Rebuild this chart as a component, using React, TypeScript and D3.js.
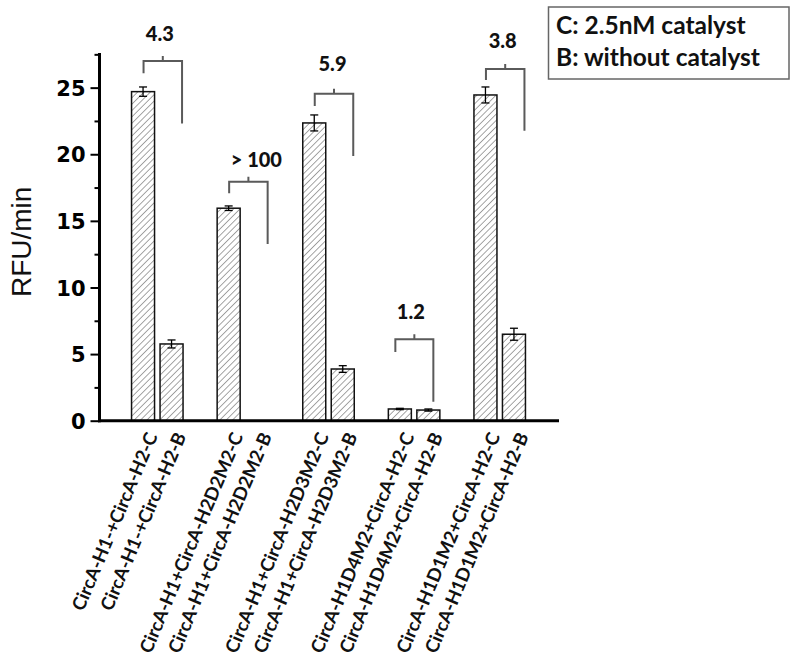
import React, { useEffect, useRef } from "react";
import * as d3 from "d3";

// ---- data ----
const groups = [
  "CircA-H1-+CircA-H2",
  "CircA-H1+CircA-H2D2M2",
  "CircA-H1+CircA-H2D3M2",
  "CircA-H1D4M2+CircA-H2",
  "CircA-H1D1M2+CircA-H2",
];
const conditions = ["C", "B"];
const valuesC = [24.7, 15.95, 22.35, 0.88, 24.45];
const errorsC = [0.35, 0.17, 0.6, 0.05, 0.6];
const valuesB = [5.76, 0, 3.88, 0.8, 6.49];
const errorsB = [0.3, 0, 0.25, 0.08, 0.45];
const ratioLabels = ["4.3", "> 100", "5.9", "1.2", "3.8"];
const bracketTop = [27.0, 17.94, 24.55, 6.11, 26.4];
const bracketLeftBottom = [26.08, 17.07, 23.63, 5.15, 25.58];
const bracketRightBottom = [22.3, 13.27, 19.87, 1.43, 21.77];
const labelLevel = [28.53, 19.07, 26.25, 7.61, 27.96];
const yTicks = [0, 5, 10, 15, 20, 25];
const legendLines = ["C: 2.5nM catalyst", "B: without catalyst"];

// layout constants
const bracketShift = [0, 0, 0, -5, 0];
const labelDx = [-3, 8, -1.5, -3.5, -2.5];

const W = 800;
const H = 662;
const axisX = 99.5;
const axisY = 420.7;
const axisTop = 53;
const axisRight = 559;

export default function App() {
  const yAxisRef = useRef<SVGGElement>(null);

  const y = d3.scaleLinear().domain([0, 27.6]).range([axisY, axisTop]);
  const x0 = d3.scaleBand<string>().domain(groups).range([114.5, 542.5]).padding(0);
  const x1 = d3
    .scaleBand<string>()
    .domain(conditions)
    .range([x0.bandwidth() / 2 - 25.75, x0.bandwidth() / 2 + 25.75])
    .paddingInner(0.193)
    .paddingOuter(0);

  useEffect(() => {
    if (!yAxisRef.current) return;
    const g = d3.select(yAxisRef.current);
    g.selectAll("*").remove();
    const major = d3
      .axisLeft(y)
      .tickValues(yTicks)
      .tickSize(9)
      .tickPadding(5)
      .tickFormat((d) => String(d));
    const ga = g.append("g").call(major);
    ga.attr("font-size", null).attr("font-family", null);
    ga.select(".domain").remove();
    ga.selectAll(".tick line").attr("stroke", "#000").attr("stroke-width", 2);
    ga.selectAll(".tick text")
      .style("font-family", "'DejaVu Sans', sans-serif")
      .style("font-weight", "bold")
      .style("font-size", "21px")
      .attr("fill", "#000")
      .attr("dy", "0.36em");
    const minorVals = yTicks.map((t) => t + 2.5).filter((v) => v < 27.6);
    const minor = d3.axisLeft(y).tickValues(minorVals).tickSize(5).tickFormat(() => "");
    const gm = g.append("g").call(minor);
    gm.select(".domain").remove();
    gm.selectAll(".tick line").attr("stroke", "#000").attr("stroke-width", 2);
  }, []);

  const labelFont = "Lato, 'Open Sans', sans-serif";

  return (
    <svg
      width={W}
      height={H}
      style={{ position: "absolute", left: 0, top: 0, background: "#fff" }}
      xmlns="http://www.w3.org/2000/svg"
    >
      <defs>
        <pattern id="hatch" patternUnits="userSpaceOnUse" width="4.5" height="4.5" patternTransform="rotate(45)">
          <rect width="4.5" height="4.5" fill="#fff" />
          <line x1="0" y1="0" x2="0" y2="4.5" stroke="#3a3a3a" strokeWidth="0.9" />
        </pattern>
      </defs>
      <rect width={W} height={H} fill="#fff" />

      {/* bars */}
      {groups.map((g, i) => {
        const vals = [valuesC[i], valuesB[i]];
        const errs = [errorsC[i], errorsB[i]];
        return (
          <g key={g} transform={`translate(${x0(g)},0)`}>
            {conditions.map((c, j) => {
              const v = vals[j];
              if (v <= 0) return null;
              const bx = x1(c)!;
              const bw = x1.bandwidth();
              const cx = bx + bw / 2;
              return (
                <g key={c}>
                  <rect
                    x={bx}
                    y={y(v)}
                    width={bw}
                    height={axisY - y(v)}
                    fill="url(#hatch)"
                    stroke="#111"
                    strokeWidth={1.5}
                  />
                  <g stroke="#000" strokeWidth={1.3}>
                    <line x1={cx} x2={cx} y1={y(v + errs[j])} y2={y(v - errs[j])} />
                    <line x1={cx - 4} x2={cx + 4} y1={y(v + errs[j])} y2={y(v + errs[j])} />
                    <line x1={cx - 4} x2={cx + 4} y1={y(v - errs[j])} y2={y(v - errs[j])} />
                  </g>
                </g>
              );
            })}
          </g>
        );
      })}

      {/* brackets */}
      {groups.map((g, i) => {
        const cxC = x0(g)! + x1("C")! + x1.bandwidth() / 2;
        const cxB = x0(g)! + x1("B")! + x1.bandwidth() / 2;
        const lx = cxC + 0.5 + bracketShift[i];
        const rx = cxB + 10.5 + (i === 3 ? -0.5 : 0) + bracketShift[i];
        const mid = (lx + rx) / 2;
        const top = y(bracketTop[i]);
        return (
          <g key={"br" + i}>
            <path
              d={`M${lx},${y(bracketLeftBottom[i])}V${top}H${rx}V${y(bracketRightBottom[i])}M${mid},${top}V${top - 5}`}
              fill="none"
              stroke="#5a5a5a"
              strokeWidth={2}
            />
            <text
              x={mid + labelDx[i]}
              y={y(labelLevel[i])}
              textAnchor="middle"
              fontFamily={labelFont}
              fontWeight="900"
              fontSize={20}
              fill="#111"
            >
              {ratioLabels[i]}
            </text>
          </g>
        );
      })}

      {/* axes lines */}
      <line x1={axisX} x2={axisX} y1={axisTop} y2={axisY + 1.5} stroke="#000" strokeWidth={3} />
      <line x1={axisX - 1.5} x2={axisRight} y1={axisY} y2={axisY} stroke="#000" strokeWidth={3} />
      <g ref={yAxisRef} transform={`translate(${axisX},0)`} />

      {/* y title */}
      <text
        transform={`translate(31,${(axisTop + axisY) / 2 + 5}) rotate(-90)`}
        textAnchor="middle"
        fontFamily="'Liberation Sans', Arial, sans-serif"
        fontSize={28}
        fill="#111"
      >
        RFU/min
      </text>

      {/* x labels */}
      {groups.map((g, i) =>
        conditions.map((c) => {
          const cx = x0(g)! + x1(c)! + x1.bandwidth() / 2;
          return (
            <text
              key={g + c}
              transform={`translate(${cx + 15},436) rotate(-67)`}
              textAnchor="end"
              fontFamily={labelFont}
              fontWeight="bold"
              fontSize={18.5}
              fill="#111"
            >
              {`${g}-${c}`}
            </text>
          );
        })
      )}

      {/* legend */}
      <rect x={548.5} y={7} width={240.5} height={72} fill="#fff" stroke="#666" strokeWidth={1.5} />
      {legendLines.map((t, i) => (
        <text
          key={t}
          x={556}
          y={34 + i * 32}
          fontFamily={labelFont}
          fontWeight="bold"
          fontSize={24.5}
          fill="#111"
        >
          {t}
        </text>
      ))}
    </svg>
  );
}
